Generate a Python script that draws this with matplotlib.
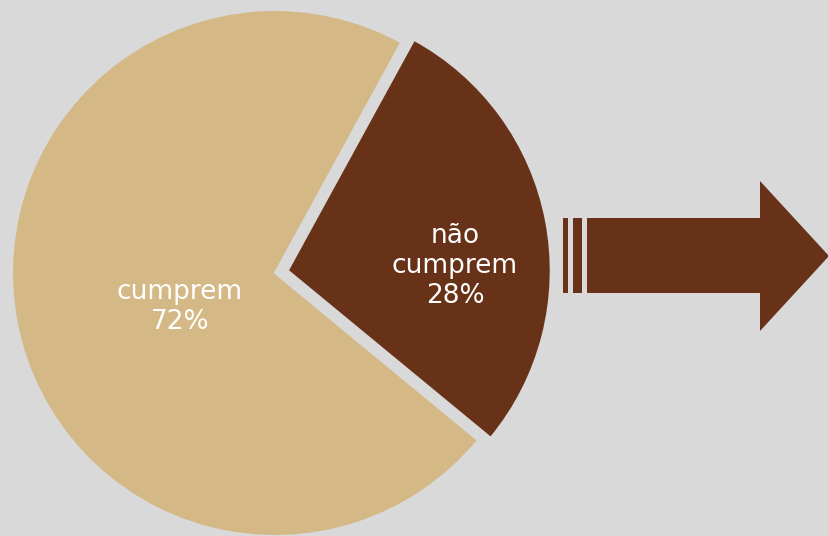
import matplotlib
matplotlib.use("Agg")
import matplotlib.pyplot as plt
from matplotlib.patches import Polygon, Rectangle

# Share of entities that comply / do not comply
categories = ["cumprem", "não\ncumprem"]
shares = [72, 28]
colors = ["#D4B886", "#673218"]

W, H = 829, 536
bg = "#D9D9D9"

fig = plt.figure(figsize=(W / 100, H / 100), dpi=100, facecolor=bg)
ax = fig.add_axes([0, 0, 1, 1])
ax.set_facecolor(bg)

radius = 263
center = (275, H - 273)

ax.pie(
    shares,
    colors=colors,
    startangle=61.3,
    counterclock=True,
    explode=[0, 13],
    radius=radius,
    center=center,
    frame=True,
    wedgeprops=dict(edgecolor=bg, linewidth=1.5),
)
ax.set_xlim(0, W)
ax.set_ylim(0, H)
ax.set_aspect("equal")
ax.axis("off")

# Slice labels
label_pos = [(180, H - 307), (455, H - 266)]
for cat, val, (lx, ly) in zip(categories, shares, label_pos):
    ax.text(lx, ly, f"{cat}\n{val}%", ha="center", va="center",
            color="white", fontsize=19, family="DejaVu Sans",
            linespacing=1.2)

# Striped arrow pointing right
arrow_color = "#673218"
shaft_top, shaft_bot = H - 218, H - 293
ax.add_patch(Rectangle((563, shaft_bot), 5, shaft_top - shaft_bot,
                       facecolor=arrow_color, edgecolor="none"))
ax.add_patch(Rectangle((573, shaft_bot), 9.5, shaft_top - shaft_bot,
                       facecolor=arrow_color, edgecolor="none"))
ax.add_patch(Polygon([
    (587, shaft_top), (760, shaft_top), (760, H - 181), (829, H - 256),
    (760, H - 331), (760, shaft_bot), (587, shaft_bot)],
    closed=True, facecolor=arrow_color, edgecolor="none"))

fig.savefig("out.png", dpi=100, facecolor=bg)
